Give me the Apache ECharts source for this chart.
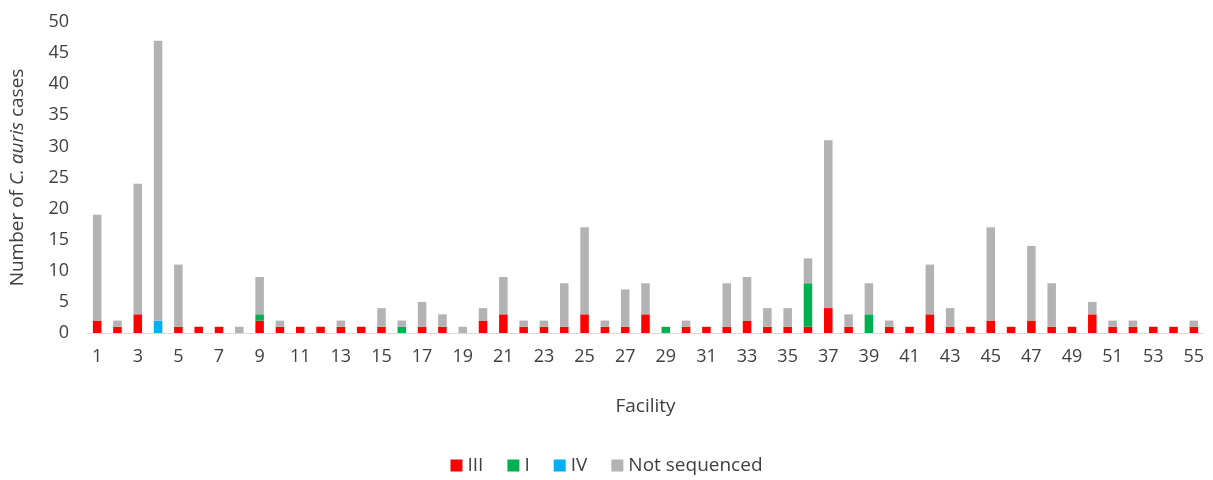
<!DOCTYPE html>
<html>
<head>
<meta charset="utf-8">
<script src="https://cdn.jsdelivr.net/npm/echarts@6/dist/echarts.min.js"></script>
<style>
  html, body { margin: 0; padding: 0; background: #fff; }
  #main { width: 1213px; height: 480px; }
</style>
</head>
<body>
<div id="main"></div>
<script>
// facilities 1..55
var facilities = [];
for (var i = 1; i <= 55; i++) facilities.push(String(i));

// clade counts per facility
var cladeIII = [2,1,3,0,1,1,1,0,2,1, 1,1,1,1,1,0,1,1,0,2, 3,1,1,1,3,1,1,3,0,1, 1,1,2,1,1,1,4,1,0,1, 1,3,1,1,2,1,2,1,1,3, 1,1,1,1,1];
var cladeI   = [0,0,0,0,0,0,0,0,1,0, 0,0,0,0,0,1,0,0,0,0, 0,0,0,0,0,0,0,0,1,0, 0,0,0,0,0,7,0,0,3,0, 0,0,0,0,0,0,0,0,0,0, 0,0,0,0,0];
var cladeIV  = [0,0,0,2,0,0,0,0,0,0, 0,0,0,0,0,0,0,0,0,0, 0,0,0,0,0,0,0,0,0,0, 0,0,0,0,0,0,0,0,0,0, 0,0,0,0,0,0,0,0,0,0, 0,0,0,0,0];
var notSeq   = [17,1,21,45,10,0,0,1,6,1, 0,0,1,0,3,1,4,2,1,2, 6,1,1,7,14,1,6,5,0,1, 0,7,7,3,3,4,27,2,5,1, 0,8,3,0,15,0,12,7,0,2, 1,1,0,0,1];

var yTicks = [0, 50, 5]; // min, max, interval

var chart = echarts.init(document.getElementById('main'));
var font = 'Open Sans, Liberation Sans, sans-serif';
var txt = '#404040';

function bar(name, data, color) {
  return {
    name: name,
    type: 'bar',
    stack: 'total',
    data: data,
    barWidth: '42%',
    itemStyle: { color: color },
    emphasis: { disabled: true }
  };
}

chart.setOption({
  animation: false,
  textStyle: { fontFamily: font },
  grid: { left: 87, right: 9, top: 22, bottom: 147 },
  legend: {
    bottom: 0,
    left: 'center',
    itemWidth: 12,
    itemHeight: 12,
    itemGap: 24,
    icon: 'rect',
    textStyle: { fontSize: 19, color: txt, fontFamily: font },
    data: ['III', 'I', 'IV', 'Not sequenced']
  },
  xAxis: {
    type: 'category',
    data: facilities,
    name: 'Facility',
    nameLocation: 'middle',
    nameGap: 64,
    nameTextStyle: { fontSize: 19, color: txt },
    axisLine: { lineStyle: { color: '#d9d9d9', width: 1 } },
    axisTick: { show: false },
    axisLabel: { interval: 1, fontSize: 18, color: txt, margin: 15 }
  },
  yAxis: {
    type: 'value',
    min: yTicks[0],
    max: yTicks[1],
    interval: yTicks[2],
    name: '{n|Number of }{i|C. auris}{n| cases}',
    nameLocation: 'middle',
    nameGap: 60,
    nameRotate: 90,
    nameTextStyle: {
      rich: {
        n: { fontSize: 19, color: txt, fontFamily: font },
        i: { fontSize: 19, color: txt, fontFamily: font, fontStyle: 'italic' }
      }
    },
    axisLine: { show: false },
    axisTick: { show: false },
    splitLine: { show: false },
    axisLabel: { fontSize: 18, color: txt, margin: 18 }
  },
  series: [
    bar('III', cladeIII, '#FF0000'),
    bar('I', cladeI, '#00B050'),
    bar('IV', cladeIV, '#00B0F0'),
    bar('Not sequenced', notSeq, '#B3B3B3')
  ]
});
</script>
</body>
</html>
